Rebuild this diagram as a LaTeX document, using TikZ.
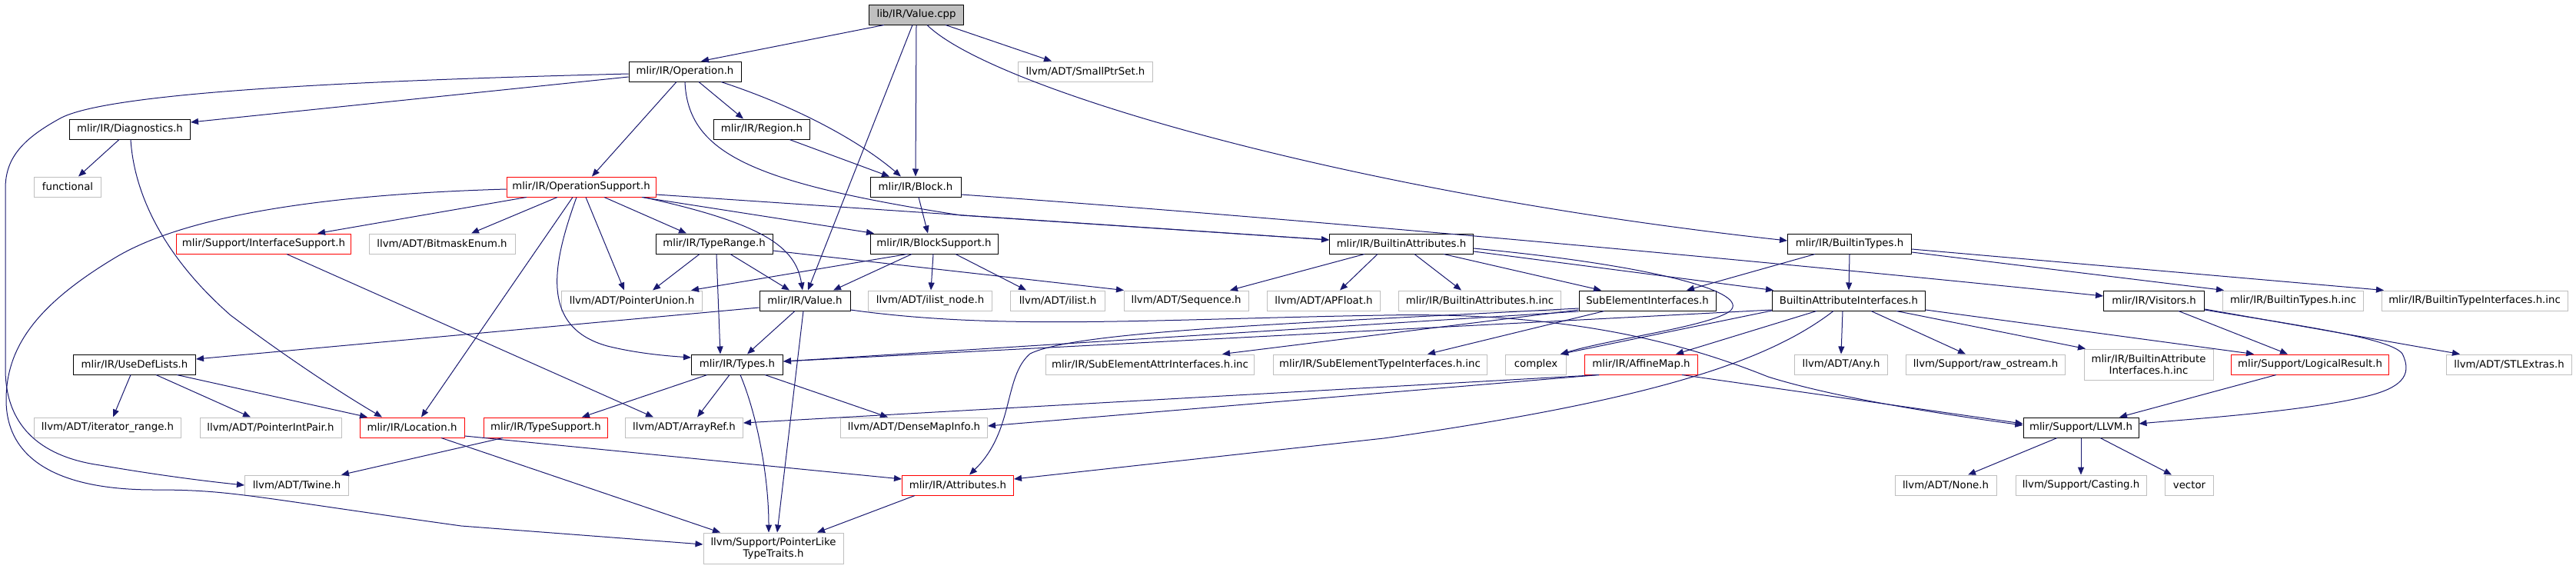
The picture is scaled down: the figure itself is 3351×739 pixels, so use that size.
\documentclass[tikz,border=0pt]{standalone}
\usepackage{fontspec}
\setmainfont{DejaVu Sans}
\usetikzlibrary{arrows.meta}
\definecolor{edgec}{HTML}{191970}
\definecolor{redb}{HTML}{FF0000}
\definecolor{grayb}{HTML}{BFBFBF}
\begin{document}
\begin{tikzpicture}[x=1pt,y=-1pt,
 box/.style={draw, rectangle, line width=1pt, minimum height=26pt, inner xsep=3pt, inner ysep=2pt, font=\fontsize{13.3}{15}\selectfont, text=black, align=center},
 bk/.style={box, draw=black},
 rd/.style={box, draw=redb},
 gy/.style={box, draw=grayb},
 rt/.style={box, draw=black, fill=grayb},
 e/.style={draw=edgec, line width=1pt, -{Triangle[length=10pt,width=8pt]}}
]
\fill[white] (0,0) rectangle (3351,739);
\useasboundingbox (0,0) rectangle (3351,739);
% nodes
\node[rt, minimum width=123pt] (vcpp) at (1192,19) {lib/IR/Value.cpp};
\node[bk, minimum width=146pt] (op) at (891,93) {mlir/IR/Operation.h};
\node[gy, minimum width=175pt] (sps) at (1412,93) {llvm/ADT/SmallPtrSet.h};
\node[bk, minimum width=157pt] (diag) at (169,168) {mlir/IR/Diagnostics.h};
\node[bk, minimum width=125pt] (region) at (991,168) {mlir/IR/Region.h};
\node[gy, minimum width=87pt] (functional) at (88,243) {functional};
\node[rd, minimum width=194pt] (opsup) at (756,243) {mlir/IR/OperationSupport.h};
\node[bk, minimum width=118pt] (block) at (1191,243) {mlir/IR/Block.h};
\node[rd, minimum width=227pt] (ifsup) at (343,317) {mlir/Support/InterfaceSupport.h};
\node[gy, minimum width=190pt] (bitmask) at (575,317) {llvm/ADT/BitmaskEnum.h};
\node[bk, minimum width=152pt] (typerange) at (929,317) {mlir/IR/TypeRange.h};
\node[bk, minimum width=166pt] (blocksup) at (1215,317) {mlir/IR/BlockSupport.h};
\node[bk, minimum width=187pt] (battr) at (1823,317) {mlir/IR/BuiltinAttributes.h};
\node[bk, minimum width=161pt] (btypes) at (2406,317) {mlir/IR/BuiltinTypes.h};
\node[gy, minimum width=183pt] (ptrunion) at (822,391) {llvm/ADT/PointerUnion.h};
\node[bk, minimum width=118pt] (value) at (1047,391) {mlir/IR/Value.h};
\node[gy, minimum width=161pt] (ilistnode) at (1210,391) {llvm/ADT/ilist\_node.h};
\node[gy, minimum width=123pt] (ilist) at (1376,391) {llvm/ADT/ilist.h};
\node[gy, minimum width=162pt] (sequence) at (1543,391) {llvm/ADT/Sequence.h};
\node[gy, minimum width=147pt] (apfloat) at (1722,391) {llvm/ADT/APFloat.h};
\node[gy, minimum width=211pt] (battrinc) at (1925,391) {mlir/IR/BuiltinAttributes.h.inc};
\node[bk, minimum width=178pt] (subelem) at (2143,391) {SubElementInterfaces.h};
\node[bk, minimum width=199pt] (battrif) at (2405,391) {BuiltinAttributeInterfaces.h};
\node[bk, minimum width=131pt] (visitors) at (2802,391) {mlir/IR/Visitors.h};
\node[gy, minimum width=183pt] (btypesinc) at (2983,391) {mlir/IR/BuiltinTypes.h.inc};
\node[gy, minimum width=242pt] (btypeifinc) at (3219,391) {mlir/IR/BuiltinTypeInterfaces.h.inc};
\node[bk, minimum width=159pt] (usedef) at (175,474) {mlir/IR/UseDefLists.h};
\node[bk, minimum width=119pt] (types) at (959,474) {mlir/IR/Types.h};
\node[gy, minimum width=271pt] (seattrinc) at (1496,474) {mlir/IR/SubElementAttrInterfaces.h.inc};
\node[gy, minimum width=278pt] (setypeinc) at (1795,474) {mlir/IR/SubElementTypeInterfaces.h.inc};
\node[gy, minimum width=79pt] (complex) at (1998,474) {complex};
\node[rd, minimum width=147pt] (affine) at (2135,474) {mlir/IR/AffineMap.h};
\node[gy, minimum width=121pt] (any) at (2395,474) {llvm/ADT/Any.h};
\node[gy, minimum width=207pt] (rawos) at (2583,474) {llvm/Support/raw\_ostream.h};
\node[gy, minimum width=168pt, minimum height=40pt] (battrifinc) at (2795,474) {mlir/IR/BuiltinAttribute\\Interfaces.h.inc};
\node[rd, minimum width=205pt] (logres) at (3005,474) {mlir/Support/LogicalResult.h};
\node[gy, minimum width=163pt] (stlextras) at (3264,474) {llvm/ADT/STLExtras.h};
\node[gy, minimum width=191pt] (iterrange) at (140,556) {llvm/ADT/iterator\_range.h};
\node[gy, minimum width=184pt] (ptrintpair) at (352,556) {llvm/ADT/PointerIntPair.h};
\node[rd, minimum width=136pt] (location) at (536,556) {mlir/IR/Location.h};
\node[rd, minimum width=161pt] (typesup) at (710,556) {mlir/IR/TypeSupport.h};
\node[gy, minimum width=153pt] (arrayref) at (890,556) {llvm/ADT/ArrayRef.h};
\node[gy, minimum width=191pt] (densemap) at (1189,556) {llvm/ADT/DenseMapInfo.h};
\node[bk, minimum width=150pt] (llvmh) at (2707,556) {mlir/Support/LLVM.h};
\node[gy, minimum width=135pt] (twine) at (386,631) {llvm/ADT/Twine.h};
\node[rd, minimum width=145pt] (attrs) at (1246,631) {mlir/IR/Attributes.h};
\node[gy, minimum width=132pt] (none) at (2531,631) {llvm/ADT/None.h};
\node[gy, minimum width=170pt] (casting) at (2707,631) {llvm/Support/Casting.h};
\node[gy, minimum width=63pt] (vector) at (2848,631) {vector};
\node[gy, minimum width=182pt, minimum height=40pt] (plt) at (1006,713) {llvm/Support/PointerLike\\TypeTraits.h};
% edges from Value.cpp
\draw[e] ([xshift=-42pt]vcpp.south) -- ([xshift=21pt]op.north);
\draw[e] ([xshift=38pt]vcpp.south) -- ([xshift=-44pt]sps.north);
\draw[e] ([xshift=-5pt]vcpp.south) -- ([xshift=4pt]value.north);
\draw[e] (vcpp.south) -- (block.north);
\draw[e] ([xshift=14pt]vcpp.south) .. controls (1290,115) and (1750,250) .. ([yshift=4pt]btypes.west);
% Operation.h
\draw[e] ([yshift=-7pt]op.west) -- ([yshift=9pt]diag.east);
\draw[e] ([yshift=-3pt]op.west) .. controls (500,104) and (150,118) .. (80,153) .. controls (30,180) and (7,205) .. (7,245) -- (7,480) .. controls (7,560) and (60,595) .. (130,605) .. controls (200,617) and (260,625) .. (twine.west);
\draw[e] ([xshift=18pt]op.south) -- ([xshift=-24pt]region.north);
\draw[e] ([xshift=47pt]op.south) .. controls (1040,140) and (1120,185) .. ([xshift=-19pt]block.north);
\draw[e] ([xshift=-11pt]op.south) -- ([xshift=14pt]opsup.north);
\draw[e] (op.south) .. controls (895,200) and (980,238) .. (1250,280) -- ([yshift=5pt]battr.west);
% Block, Region, Diagnostics
\draw[e] ([xshift=4pt]block.south) -- ([xshift=-8pt]blocksup.north);
\draw[e] ([yshift=-10pt]block.east) .. controls (1700,285) and (2300,340) .. ([yshift=6pt]visitors.west);
\draw[e] ([xshift=36pt]region.south) -- ([xshift=-34pt]block.north);
\draw[e] ([xshift=-14pt]diag.south) -- ([xshift=14pt]functional.north);
\draw[e] ([xshift=1pt]diag.south) .. controls (175,260) and (220,340) .. (300,410) .. controls (380,470) and (450,515) .. ([xshift=-39pt]location.north);
% OperationSupport
\draw[e] ([xshift=-71pt]opsup.south) -- ([xshift=70pt]ifsup.north);
\draw[e] ([xshift=-31pt]opsup.south) -- ([xshift=38pt]bitmask.north);
\draw[e] ([xshift=30pt]opsup.south) -- ([xshift=-36pt]typerange.north);
\draw[e] ([xshift=79pt]opsup.south) -- ([xshift=-78pt]blocksup.north);
\draw[e] ([yshift=-10pt]opsup.east) -- ([yshift=5pt]battr.west);
\draw[e] ([xshift=81pt]opsup.south) .. controls (990,290) and (1035,320) .. ([xshift=-3pt]value.north);
\draw[e] ([xshift=6pt]opsup.south) -- ([xshift=-10pt]ptrunion.north);
\draw[e] ([xshift=-6pt]opsup.south) .. controls (720,340) and (700,425) .. (790,450) .. controls (830,460) and (870,463) .. ([yshift=9pt]types.west);
\draw[e] ([xshift=-11pt]opsup.south) -- ([xshift=12pt]location.north);
\draw[e] ([yshift=-3pt]opsup.west) .. controls (450,252) and (250,275) .. (150,335) .. controls (50,395) and (8,450) .. (8,520) .. controls (8,600) and (80,637) .. (200,637) .. controls (300,637) and (320,645) .. (600,684) -- ([yshift=5pt]plt.west);
% InterfaceSupport, TypeRange, BlockSupport
\draw[e] ([xshift=30pt]ifsup.south) -- ([xshift=-40pt]arrayref.north);
\draw[e] ([xshift=-19pt]typerange.south) -- ([xshift=27pt]ptrunion.north);
\draw[e] ([xshift=21pt]typerange.south) -- ([xshift=-20pt]value.north);
\draw[e] ([xshift=3pt]typerange.south) -- ([xshift=-22pt]types.north);
\draw[e] ([yshift=-9pt]typerange.east) -- ([xshift=-81pt]sequence.north);
\draw[e] ([xshift=-35pt]blocksup.south) -- ([xshift=77pt]ptrunion.north);
\draw[e] ([xshift=-29pt]blocksup.south) -- ([xshift=37pt]value.north);
\draw[e] ([xshift=-1pt]blocksup.south) -- ([xshift=1pt]ilistnode.north);
\draw[e] ([xshift=28pt]blocksup.south) -- ([xshift=-41pt]ilist.north);
% BuiltinAttributes
\draw[e] ([xshift=-48pt]battr.south) -- ([xshift=57pt]sequence.north);
\draw[e] ([xshift=-31pt]battr.south) -- ([xshift=21pt]apfloat.north);
\draw[e] ([xshift=17pt]battr.south) -- ([xshift=-24pt]battrinc.north);
\draw[e] ([xshift=55pt]battr.south) -- ([xshift=-60pt]subelem.north);
\draw[e] ([yshift=-10pt]battr.east) -- ([xshift=-98pt]battrif.north);
\draw[e] ([yshift=-6pt]battr.east) .. controls (2150,345) and (2280,380) .. (2250,405) .. controls (2220,425) and (2100,440) .. ([xshift=-8pt]complex.north east);
% BuiltinTypes
\draw[e] (btypes.south) -- (battrif.north);
\draw[e] ([xshift=-45pt]btypes.south) -- ([xshift=51pt]subelem.north);
\draw[e] ([yshift=-11pt]btypes.east) -- ([xshift=-90pt]btypesinc.north);
\draw[e] ([yshift=-7pt]btypes.east) -- ([xshift=-118pt]btypeifinc.north);
% Value.h
\draw[e] ([xshift=-13pt]value.south) -- ([xshift=13pt]types.north);
\draw[e] ([xshift=-2pt]value.south) -- ([xshift=5pt]plt.north);
\draw[e] ([yshift=-9pt]value.west) -- ([yshift=7pt]usedef.east);
\draw[e] ([yshift=-12pt]value.east) .. controls (1300,430) and (1500,415) .. (1800,410) .. controls (2050,405) and (2200,450) .. (2300,490) .. controls (2380,515) and (2500,535) .. ([yshift=3pt]llvmh.west);
% UseDefLists
\draw[e] ([xshift=-5pt]usedef.south) -- ([xshift=7pt]iterrange.north);
\draw[e] ([xshift=28pt]usedef.south) -- ([xshift=-26pt]ptrintpair.north);
\draw[e] ([xshift=55pt]usedef.south) -- ([xshift=-58pt]location.north);
% Types.h
\draw[e] ([xshift=-39pt]types.south) -- ([xshift=47pt]typesup.north);
\draw[e] ([xshift=-10pt]types.south) -- ([xshift=17pt]arrayref.north);
\draw[e] ([xshift=36pt]types.south) -- ([xshift=-34pt]densemap.north);
\draw[e] ([xshift=4pt]types.south) .. controls (985,540) and (1000,620) .. ([xshift=-6pt]plt.north);
% SubElementInterfaces
\draw[e] ([yshift=-14pt]subelem.west) -- ([yshift=4pt]types.east);
\draw[e] ([yshift=-12pt]subelem.west) -- ([xshift=94pt]seattrinc.north);
\draw[e] ([xshift=-56pt]subelem.south) -- ([xshift=62pt]setypeinc.north);
\draw[e] ([yshift=-10pt]subelem.west) .. controls (1700,420) and (1400,430) .. (1340,460) .. controls (1305,490) and (1320,560) .. ([xshift=15pt]attrs.north);
% BuiltinAttributeInterfaces
\draw[e] ([yshift=-12pt]battrif.west) -- ([yshift=4pt]types.east);
\draw[e] ([yshift=-13pt]battrif.west) -- ([xshift=-8pt]complex.north east);
\draw[e] ([xshift=-42pt]battrif.south) -- ([xshift=45pt]affine.north);
\draw[e] ([xshift=-20pt]battrif.south) .. controls (2300,470) and (2150,520) .. (1800,570) -- ([yshift=8pt]attrs.east);
\draw[e] ([xshift=-8pt]battrif.south) -- (any.north);
\draw[e] ([xshift=29pt]battrif.south) -- ([xshift=-26pt]rawos.north);
\draw[e] ([xshift=62pt]battrif.south) -- ([xshift=-82pt]battrifinc.north);
\draw[e] ([yshift=-12pt]battrif.east) -- ([xshift=-73pt]logres.north);
% Visitors
\draw[e] ([xshift=32pt]visitors.south) -- ([xshift=-29pt]logres.north);
\draw[e] ([yshift=-12pt]visitors.east) .. controls (3000,425) and (3110,440) .. (3125,460) .. controls (3140,490) and (3120,505) .. (3080,515) .. controls (3000,535) and (2850,545) .. ([yshift=5pt]llvmh.east);
\draw[e] ([yshift=-11pt]visitors.east) -- ([xshift=-64pt]stlextras.north);
% AffineMap, LogicalResult, LLVM
\draw[e] ([xshift=-55pt]affine.south) -- ([yshift=6pt]arrayref.east);
\draw[e] ([xshift=-55pt]affine.south) -- ([yshift=2pt]densemap.east);
\draw[e] ([xshift=53pt]affine.south) -- ([yshift=5pt]llvmh.west);
\draw[e] ([xshift=-44pt]logres.south) -- ([xshift=50pt]llvmh.north);
\draw[e] ([xshift=-31pt]llvmh.south) -- ([xshift=29pt]none.north);
\draw[e] (llvmh.south) -- (casting.north);
\draw[e] ([xshift=25pt]llvmh.south) -- ([xshift=-23pt]vector.north);
% Location, TypeSupport, Attributes
\draw[e] ([yshift=-11pt]location.east) -- ([yshift=8pt]attrs.west);
\draw[e] ([xshift=38pt]location.south) -- ([xshift=-69pt]plt.north);
\draw[e] ([xshift=-56pt]typesup.south) -- ([xshift=58pt]twine.north);
\draw[e] ([xshift=-56pt]attrs.south) -- ([xshift=57pt]plt.north);
\end{tikzpicture}
\end{document}
